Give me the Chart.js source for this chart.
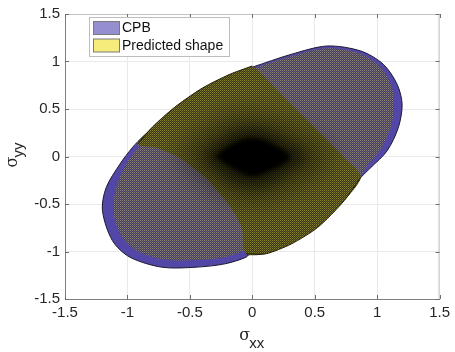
<!DOCTYPE html>
<html>
<head>
<meta charset="utf-8">
<script src="https://cdn.jsdelivr.net/npm/chart.js@4.4.1/dist/chart.umd.min.js"></script>
<style>
html,body{margin:0;padding:0;background:#fff;}
#wrap{width:455px;height:352px;}
</style>
</head>
<body>
<div id="wrap"><canvas id="c" width="455" height="352"></canvas></div>
<script>
// ---- data ----
const xTicks = [-1.5, -1, -0.5, 0, 0.5, 1, 1.5];
const yTicks = [-1.5, -1, -0.5, 0, 0.5, 1, 1.5];
const seriesLabels = ['CPB', 'Predicted shape'];

// CPB outer boundary (sigma_xx, sigma_yy)
const cpbOuterX = [0.00, 0.31, 0.60, 0.87, 1.05, 1.16, 1.20, 1.17, 1.08, 0.95, 0.87, 0.75, 0.50, 0.25, 0.00, -0.05, -0.22, -0.45, -0.72, -0.98, -1.12, -1.20, -1.17, -1.06, -0.96, -0.87, -0.76, -0.58, -0.36, -0.16, 0.00];
const cpbOuterY = [0.94, 1.075, 1.163, 1.11, 0.97, 0.76, 0.55, 0.305, 0.06, -0.116, -0.22, -0.42, -0.72, -0.90, -1.00, -1.06, -1.13, -1.165, -1.166, -1.06, -0.886, -0.57, -0.326, -0.08, 0.095, 0.217, 0.34, 0.54, 0.72, 0.86, 0.94];

// CPB inner face (inside the rim)
const cpbInnerX = [0.02, 0.31, 0.60, 0.86, 1.02, 1.11, 1.135, 1.11, 1.03, 0.92, 0.868, 0.70, 0.45, 0.20, 0.00, -0.05, -0.22, -0.45, -0.70, -0.93, -1.05, -1.115, -1.09, -1.02, -0.93, -0.87, -0.70, -0.45, -0.20, 0.02];
const cpbInnerY = [0.93, 1.055, 1.14, 1.085, 0.95, 0.76, 0.55, 0.31, 0.08, -0.10, -0.20, -0.45, -0.72, -0.90, -0.98, -0.99, -1.06, -1.09, -1.085, -0.99, -0.83, -0.57, -0.33, -0.10, 0.07, 0.17, 0.40, 0.66, 0.84, 0.93];

// Predicted shape, visible part
const predX = [0.00, -0.18, -0.40, -0.62, -0.80, -0.918, -0.772, -0.587, -0.376, -0.19, -0.085, -0.05, 0.106, 0.312, 0.524, 0.736, 0.87, 0.736, 0.577, 0.365, 0.18, 0.05, 0.00];
const predY = [0.953, 0.865, 0.72, 0.52, 0.31, 0.13, 0.095, -0.01, -0.22, -0.50, -0.745, -1.025, -1.025, -0.921, -0.746, -0.465, -0.215, -0.01, 0.20, 0.48, 0.725, 0.90, 0.953];
// the two outer (outlined) edges of the predicted shape, as index ranges into predX/predY
const predEdgeRanges = [[0, 6], [11, 17]];

// dark mesh convergence near the origin
const haloX = [-0.62, -0.40, -0.12, 0.12, 0.42, 0.64, 0.42, 0.12, -0.12, -0.40, -0.62];
const haloY = [0.02, 0.28, 0.46, 0.44, 0.26, -0.02, -0.28, -0.48, -0.48, -0.26, 0.02];
const midX = [-0.40, -0.26, -0.10, 0.08, 0.28, 0.43, 0.30, 0.10, -0.08, -0.26, -0.40];
const midY = [0.00, 0.16, 0.28, 0.28, 0.15, 0.00, -0.15, -0.30, -0.31, -0.17, 0.00];
const coreX = [-0.30, -0.20, -0.08, 0.05, 0.18, 0.30, 0.25, 0.12, 0.00, -0.12, -0.22, -0.30];
const coreY = [0.00, 0.10, 0.18, 0.19, 0.12, 0.00, -0.08, -0.16, -0.21, -0.15, -0.07, 0.00];

const zip = (xs, ys) => xs.map((x, i) => ({x: x, y: ys[i]}));

function makePattern(c1, c2, c3) {
  const p = document.createElement('canvas');
  p.width = 2; p.height = 2;
  const g = p.getContext('2d');
  g.fillStyle = c1; g.fillRect(0, 0, 1, 1);
  g.fillStyle = c2; g.fillRect(1, 0, 1, 1); g.fillRect(0, 1, 1, 1);
  g.fillStyle = c3; g.fillRect(1, 1, 1, 1);
  return document.getElementById('c').getContext('2d').createPattern(p, 'repeat');
}
const lobePattern = makePattern('#8b8176', '#443f5e', '#645e71');
const yellowPattern = makePattern('#88832f', '#3a3712', '#645f23');

const poly = (label, xs, ys, bg, border, bw, order, tension) => ({
  label: label, data: zip(xs, ys), showLine: true, fill: 'shape',
  backgroundColor: bg, borderColor: border, borderWidth: bw,
  pointRadius: 0, pointHoverRadius: 0, tension: tension, order: order
});
const edge = (label, xs, ys, order) => ({
  label: label, data: zip(xs, ys), showLine: true, fill: false,
  borderColor: '#22200c', borderWidth: 1, backgroundColor: 'rgba(0,0,0,0)',
  pointRadius: 0, pointHoverRadius: 0, tension: 0.25, order: order
});
const blob = (label, xs, ys, color, blur, order) => ({
  label: label, data: zip(xs, ys), showLine: true, fill: false,
  borderWidth: 0, borderColor: 'rgba(0,0,0,0)', pointRadius: 0, pointHoverRadius: 0,
  tension: 0.4, order: order, blobColor: color, blobBlur: blur
});

const legendItems = [
  {text: seriesLabels[0], color: '#958ecf'},
  {text: seriesLabels[1], color: '#f5ec7b'}
];

const blobPlugin = {
  id: 'blobs',
  afterDatasetDraw(chart, args) {
    const ds = chart.data.datasets[args.index];
    if (!ds.blobColor) return;
    const ctx = chart.ctx;
    ctx.save();
    ctx.filter = 'blur(' + ds.blobBlur + 'px)';
    ctx.fillStyle = ds.blobColor;
    ctx.beginPath();
    args.meta.dataset.path(ctx);
    ctx.closePath();
    ctx.fill();
    ctx.restore();
  }
};

const decorPlugin = {
  id: 'decor',
  afterDraw(chart) {
    const ctx = chart.ctx, a = chart.chartArea;
    const xs = chart.scales.x, ys = chart.scales.y;
    ctx.save();
    // box top/right
    ctx.strokeStyle = '#c4c4c4'; ctx.lineWidth = 1;
    ctx.beginPath();
    ctx.moveTo(a.left, a.top + 0.5); ctx.lineTo(a.right - 0.5, a.top + 0.5); ctx.lineTo(a.right - 0.5, a.bottom);
    ctx.stroke();
    // inward ticks
    ctx.strokeStyle = '#6e6e6e';
    ctx.beginPath();
    xTicks.forEach(v => {
      const px = Math.round(xs.getPixelForValue(v)) + 0.5;
      ctx.moveTo(px, a.bottom); ctx.lineTo(px, a.bottom - 4);
      ctx.moveTo(px, a.top); ctx.lineTo(px, a.top + 4);
    });
    yTicks.forEach(v => {
      const py = Math.round(ys.getPixelForValue(v)) + 0.5;
      ctx.moveTo(a.left, py); ctx.lineTo(a.left + 4, py);
      ctx.moveTo(a.right, py); ctx.lineTo(a.right - 4, py);
    });
    ctx.stroke();
    // axis titles
    ctx.fillStyle = '#262626';
    ctx.textBaseline = 'alphabetic';
    ctx.textAlign = 'left';
    const cx = (a.left + a.right) / 2;
    ctx.font = '16px "DejaVu Serif"';
    ctx.fillText('\u03C3', cx - 13, 340);
    ctx.font = '15px "Liberation Sans"';
    ctx.fillText('xx', cx - 3, 348);
    ctx.save();
    ctx.translate(17, (a.top + a.bottom) / 2);
    ctx.rotate(-Math.PI / 2);
    ctx.font = '16px "DejaVu Serif"';
    ctx.fillText('\u03C3', -11, 0);
    ctx.font = '15px "Liberation Sans"';
    ctx.fillText('yy', -1, 5.5);
    ctx.restore();
    // legend
    const L = {x: 89.5, y: 17.5, w: 140, h: 39};
    ctx.fillStyle = '#ffffff';
    ctx.fillRect(L.x, L.y, L.w, L.h);
    ctx.strokeStyle = '#bdbdbd';
    ctx.strokeRect(L.x, L.y, L.w, L.h);
    ctx.font = '14px "Liberation Sans"';
    ctx.textBaseline = 'middle';
    legendItems.forEach((it, i) => {
      const yy = 21.5 + i * 17.5;
      ctx.fillStyle = it.color;
      ctx.fillRect(93.5, yy, 26, 13);
      ctx.strokeStyle = '#7a7a7a';
      ctx.strokeRect(93.5, yy, 26, 13);
      ctx.fillStyle = '#111111';
      ctx.fillText(it.text, 122, yy + 7);
    });
    ctx.restore();
  }
};

const tickFont = {family: '"Liberation Sans", Arial, sans-serif', size: 15};

const edgeSets = predEdgeRanges.map((r, i) =>
  edge('pred edge ' + i, predX.slice(r[0], r[1]), predY.slice(r[0], r[1]), 2.5));

new Chart(document.getElementById('c'), {
  type: 'scatter',
  data: {
    datasets: [
      blob('core', coreX, coreY, 'rgba(0,0,0,0.98)', 2, 0),
      blob('mid', midX, midY, 'rgba(0,0,0,0.55)', 7, 1),
      blob('halo', haloX, haloY, 'rgba(0,0,0,0.35)', 12, 2),
      ...edgeSets,
      poly(seriesLabels[1], predX, predY, yellowPattern, 'rgba(0,0,0,0)', 0, 3, 0.25),
      poly('CPB inner', cpbInnerX, cpbInnerY, lobePattern, 'rgba(0,0,0,0)', 0, 4, 0.3),
      poly(seriesLabels[0], cpbOuterX, cpbOuterY, '#5247a7', '#1c1a30', 1, 5, 0.3)
    ]
  },
  options: {
    responsive: false,
    animation: false,
    events: [],
    layout: {padding: {top: 13, right: 12, left: 0, bottom: 0}},
    plugins: {legend: {display: false}, tooltip: {enabled: false}},
    scales: {
      x: {
        type: 'linear', min: -1.5, max: 1.5,
        afterFit: s => { s.height = 53; },
        afterBuildTicks: s => { s.ticks = xTicks.map(v => ({value: v})); },
        ticks: {font: tickFont, color: '#262626', padding: 5, maxRotation: 0, callback: v => String(v)},
        grid: {color: '#e9e9e9', drawTicks: false},
        border: {color: '#7f7f7f'}
      },
      y: {
        type: 'linear', min: -1.5, max: 1.5,
        afterFit: s => { s.width = 65; },
        afterBuildTicks: s => { s.ticks = yTicks.map(v => ({value: v})); },
        ticks: {font: tickFont, color: '#262626', padding: 5, callback: v => String(v)},
        grid: {color: '#e9e9e9', drawTicks: false},
        border: {color: '#7f7f7f'}
      }
    }
  },
  plugins: [blobPlugin, decorPlugin]
});
</script>
</body>
</html>
